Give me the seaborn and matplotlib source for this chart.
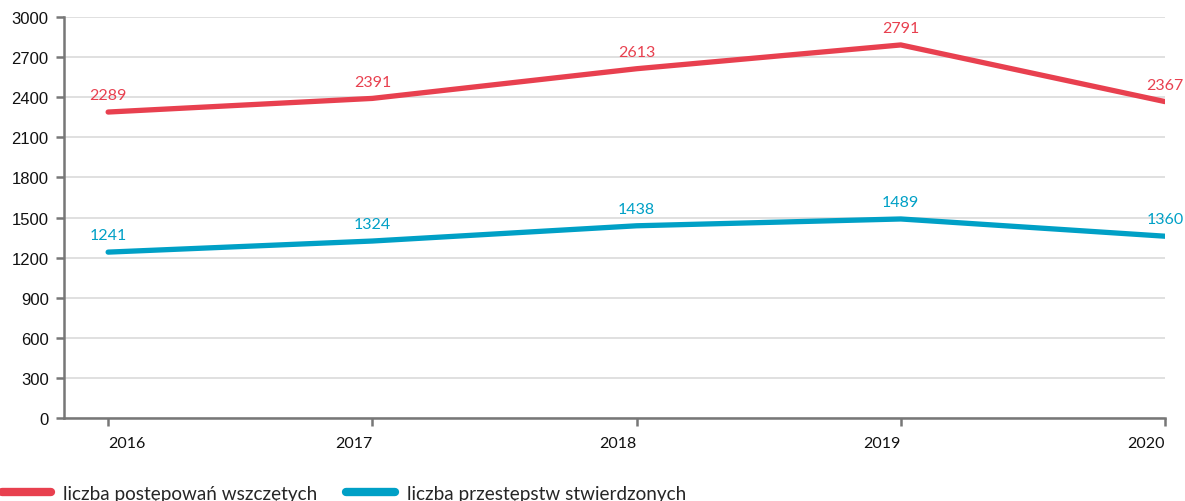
import seaborn as sns
import pandas as pd
import matplotlib.pyplot as plt

years = ['2016', '2017', '2018', '2019', '2020']
postepowania = [2289, 2391, 2613, 2791, 2367]
przestepstwa = [1241, 1324, 1438, 1489, 1360]
series_names = ['liczba postępowań wszczętych', 'liczba przestępstw stwierdzonych']
colors = ['#E8404F', '#00A0C6']

df = pd.DataFrame({
    'rok': years * 2,
    'wartosc': postepowania + przestepstwa,
    'seria': [series_names[0]] * len(years) + [series_names[1]] * len(years),
})

sns.set_style('white')
plt.rcParams['font.family'] = ['Liberation Sans', 'DejaVu Sans']
lato = ['Lato', 'DejaVu Sans']

fig = plt.figure(figsize=(11.85, 5.02), dpi=100)
ax = fig.add_axes([64 / 1185, 1 - 419 / 502, 1101 / 1185, 401 / 502])

sns.lineplot(data=df, x='rok', y='wartosc', hue='seria', palette=colors,
             linewidth=3.8, ax=ax, sort=False)

ax.set_ylim(0, 3000)
ax.set_xlim(-0.167, 4)
ax.set_yticks(range(0, 3001, 300))
ax.grid(axis='y', color='#dddddd', linewidth=1.3)
ax.set_axisbelow(True)
ax.set_xlabel('')
ax.set_ylabel('')

for side in ['top', 'right']:
    ax.spines[side].set_visible(False)
for side in ['left', 'bottom']:
    ax.spines[side].set_color('#777777')
    ax.spines[side].set_linewidth(1.8)
ax.tick_params(axis='both', bottom=True, left=True, colors='#777777', width=1.8, length=6,
               labelcolor='#111111', labelsize=12)
ax.tick_params(axis='x', pad=7)
ax.tick_params(axis='y', pad=5)

for i, lab in enumerate(ax.get_xticklabels()):
    lab.set_family(lato)
    lab.set_fontsize(11.5)
    lab.set_ha('left' if i == 0 else 'right')

for vals, col in zip([postepowania, przestepstwa], colors):
    for i, v in enumerate(vals):
        ax.annotate(str(v), (i, v), xytext=(0, 7), textcoords='offset points',
                    ha='center', va='bottom', color=col, fontsize=11.5,
                    family=lato, annotation_clip=False)

handles, labels = ax.get_legend_handles_labels()
for h in handles:
    h.set_linewidth(6)
    h.set_solid_capstyle('round')
leg = ax.legend(handles, labels, loc='lower left', bbox_to_anchor=(2 / 1185, -1 / 502),
                bbox_transform=fig.transFigure, ncol=2, frameon=False, borderpad=0,
                borderaxespad=0, handlelength=2.6, handletextpad=0.62, columnspacing=1.55,
                prop={'family': lato, 'size': 13.55})

fig.savefig('out.png', dpi=100)
